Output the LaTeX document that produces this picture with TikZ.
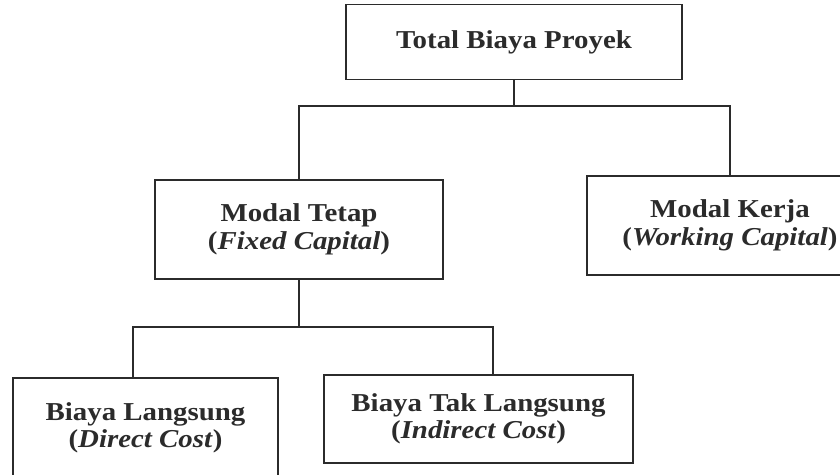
\documentclass[tikz,border=0pt]{standalone}
\usepackage{fontspec}
\setmainfont{Liberation Serif}[FakeStretch=1.12]
\usetikzlibrary{positioning,calc}
\usepackage{xcolor}
\definecolor{ink}{HTML}{2B2B2B}

\tikzset{
  box/.style={draw=ink, line width=1.2pt, text=ink, align=center, inner sep=0pt,
    font=\fontsize{22}{23.5}\selectfont\bfseries},
  link/.style={draw=ink, line width=1.2pt}
}

\begin{document}
\begin{tikzpicture}[x=0.03cm, y=-0.03cm]
  \useasboundingbox (0,0) rectangle (840,474);
  \fill[white] (0,0) rectangle (840,474);

  % kotak
  \node[box, minimum width=336*0.03cm, minimum height=75*0.03cm] (total) at (514,42) {Total Biaya Proyek};
  \node[box, minimum width=288*0.03cm, minimum height=99*0.03cm] (tetap) at (299,229.5) {Modal Tetap\\(\textit{Fixed Capital})};
  \node[box, minimum width=286*0.03cm, minimum height=99*0.03cm] (kerja) at (730,225.5) {Modal Kerja\\(\textit{Working Capital})};
  \node[box, minimum width=265*0.03cm, minimum height=100*0.03cm] (langsung) at (145.5,428) {Biaya Langsung\\(\textit{Direct Cost})};
  \node[box, minimum width=309*0.03cm, minimum height=88*0.03cm] (taklangsung) at (478.5,419) {Biaya Tak Langsung\\(\textit{Indirect Cost})};

  % garis
  \coordinate (j1) at (514,106);
  \draw[link] (total) -- (j1);
  \draw[link] (tetap.north) |- (j1) -| (kerja.north);

  \coordinate (j2) at (299,327);
  \coordinate (bl) at (133,327);
  \coordinate (br) at (493,327);
  \draw[link] (tetap) -- (j2);
  \draw[link] (bl |- langsung.north) -- (bl) -- (br) -- (br |- taklangsung.north);
\end{tikzpicture}
\end{document}
